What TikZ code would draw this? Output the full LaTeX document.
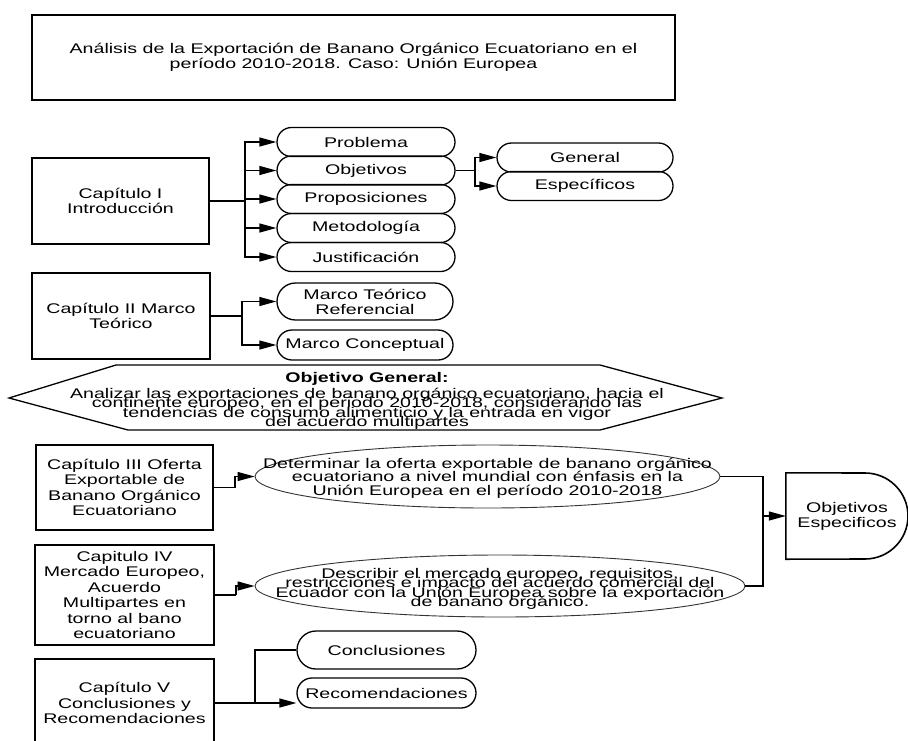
\documentclass[tikz,border=0pt]{standalone}
\usepackage{fontspec}
\setmainfont{Liberation Sans}[FakeStretch=1.4]
\usetikzlibrary{arrows.meta,shapes.geometric}
\setlength{\lineskiplimit}{-20pt}
\tikzset{
  wire/.style={line width=1.3pt, draw=black},
  arr/.style={wire, -{Triangle[length=17pt,width=9pt]}},
  chapbox/.style={draw, line width=1.6pt, minimum width=#1, align=center, inner sep=0pt,
    font=\fontsize{14pt}{15.5pt}\selectfont},
  pill/.style={draw, line width=1.3pt, rounded corners=#1pt, minimum height={2*#1pt},
    minimum width=178pt, inner sep=0pt, align=center, font=\fontsize{14pt}{15pt}\selectfont},
  oval/.style={ellipse, draw=black!80, line width=0.9pt, inner sep=0pt},
  ovaltext/.style={align=center, inner sep=0pt, font=\fontsize{14pt}{#1}\selectfont},
}

\begin{document}
\begin{tikzpicture}[x=1pt, y=-1pt]
  \useasboundingbox (0,0) rectangle (908,740);
  \clip (0,0) rectangle (908,740);
  % titulo
  \node[chapbox=643pt, minimum height=85pt] (tit) at (353.5,57.5)
    {Análisis de la Exportación de Banano Orgánico Ecuatoriano en el\\período 2010-2018. Caso: Unión Europea};
  % Capitulo I
  \node[chapbox=177pt, minimum height=86pt] (cap1) at (120.5,201) {Capítulo I\\Introducción};
  \node[pill=14.5] (prob) at (366,142) {Problema};
  \node[pill=14.5] (objs) at (366,170.5) {Objetivos};
  \node[pill=14.5] (prop) at (366,199) {Proposiciones};
  \node[pill=14.5] (meto) at (366,228) {Metodología};
  \node[pill=14.5] (just) at (366,257) {Justificación};
  \node[pill=14.5, minimum width=176pt] (gen) at (585,157.5) {General};
  \node[pill=14.5, minimum width=176pt] (esp) at (585,186) {Específicos};
  \coordinate (b1) at (245,201);
  \draw[wire] (cap1.east) -- (b1);
  \foreach \n in {prob,objs,prop,meto,just}
    \draw[arr] (b1) |- (\n.west);
  \coordinate (b2) at (475,170.5);
  \draw[wire] (objs.east) -- (b2);
  \draw[arr] (b2) |- (gen.west);
  \draw[arr] (b2) |- (esp.west);
  % Capitulo II
  \node[chapbox=178pt, minimum height=86pt] (cap2) at (121,316) {Capítulo II Marco\\Teórico};
  \node[pill=18.5, minimum width=176pt] (mtr) at (365,301.5) {Marco Teórico\\Referencial};
  \node[pill=15, minimum width=176pt] (mcon) at (365,345) {Marco Conceptual};
  \coordinate (b3) at (242,316);
  \draw[wire] (cap2.east) -- (b3);
  \draw[arr] (b3) |- (mtr.west);
  \draw[arr] (b3) |- (mcon.west);
  % objetivo general
  \draw[line width=1.3pt] (9,398) -- (116,365) -- (600,365) -- (722,398) -- (600,430) -- (128,430) -- cycle;
  \node[ovaltext=9.5pt] (objgen) at (367,401)
    {\textbf{Objetivo General:}\\[6.5pt]
     Analizar las exportaciones de banano orgánico ecuatoriano, hacia el\\
     continente europeo, en el periodo 2010-2018, considerando las\\
     tendencias de consumo alimenticio y la entrada en vigor\\
     del acuerdo multipartes};
  % Capitulos III y IV
  \node[chapbox=177pt, minimum height=85pt] (cap3) at (124.5,487.5)
    {Capítulo III Oferta\\Exportable de\\Banano Orgánico\\Ecuatoriano};
  \node[chapbox=179pt, minimum height=100pt] (cap4) at (124.5,595)
    {Capitulo IV\\Mercado Europeo,\\Acuerdo\\Multipartes en\\torno al bano\\ecuatoriano};
  \node[oval, minimum width=465pt, minimum height=63pt] (det) at (487.5,476.5) {};
  \node[ovaltext=13.5pt] (dett) at (487.5,478)
    {Determinar la oferta exportable de banano orgánico\\ecuatoriano a nivel mundial con énfasis en la\\Unión Europea en el período 2010-2018};
  \node[oval, minimum width=490pt, minimum height=62pt] (desc) at (500,586) {};
  \node[ovaltext=9.4pt] (desct) at (500,589)
    {Describir el mercado europeo, requisitos,\\restricciones e impacto del acuerdo comercial del\\Ecuador con la Unión Europea sobre la exportación\\de banano orgánico.};
  \coordinate (b4) at (235,487.5);
  \draw[wire] (cap3.east) -- (b4);
  \draw[arr] (b4) |- (det.west);
  \coordinate (b5) at (236,595);
  \draw[wire] (cap4.east) -- (b5);
  \draw[arr] (b5) |- (desc.west);
  % objetivos especificos
  \node[minimum width=122pt, minimum height=86pt, inner sep=0pt, align=center,
    font=\fontsize{14pt}{15pt}\selectfont] (objesp) at (847,516) {Objetivos\\Especificos};
  \draw[line width=1.6pt] (objesp.north west) -- (865,473) arc[start angle=-90, end angle=90, radius=43]
    -- (objesp.south west) -- cycle;
  \coordinate (jr) at (763,516);
  \draw[wire] (det.east) -| (jr);
  \draw[wire] (desc.east) -| (jr);
  \draw[arr] (jr) -- (objesp.west);
  % Capitulo V
  \node[chapbox=179pt, minimum height=88pt] (cap5) at (124.5,703)
    {Capítulo V\\Conclusiones y\\Recomendaciones};
  \node[pill=19, minimum width=179pt] (concl) at (386.5,650) {Conclusiones};
  \node[pill=15, minimum width=179pt] (recom) at (386.5,693) {Recomendaciones};
  \coordinate (b6) at (255,703);
  \draw[wire] (cap5.east) -- (b6) |- (concl.west);
  \draw[arr] (b6) -- (b6 -| recom.west);
\end{tikzpicture}
\end{document}
